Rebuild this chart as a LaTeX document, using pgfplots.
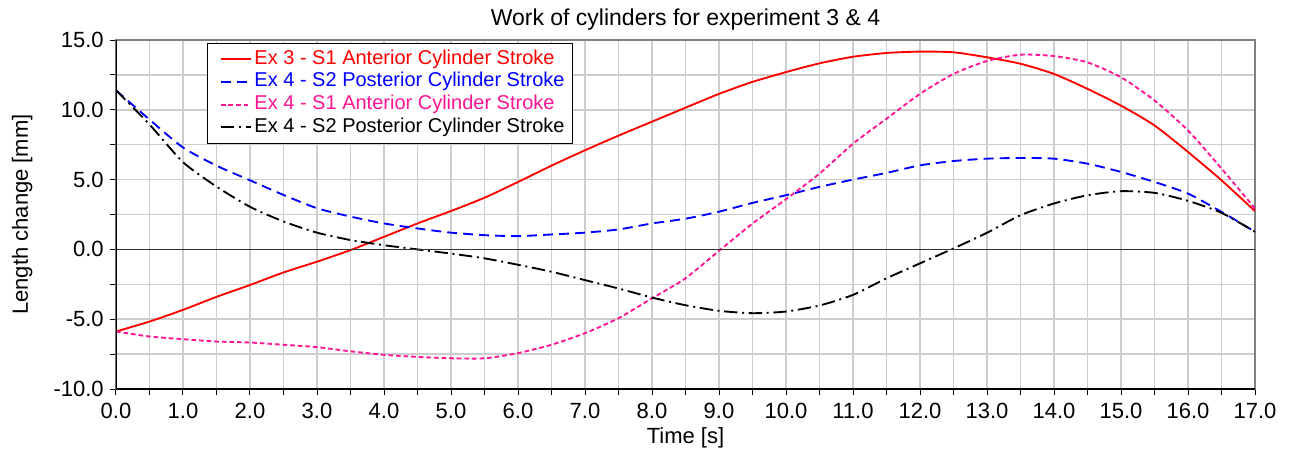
\documentclass[border=0pt]{standalone}
\usepackage{pgfplots}
\pgfplotsset{compat=1.18}
\usepackage{pgfplotstable}
\usepackage{fontspec}
\setmainfont{Liberation Sans}
\definecolor{cred}{RGB}{255,0,0}
\definecolor{cblue}{RGB}{0,0,255}
\definecolor{cpink}{RGB}{255,20,147}
\definecolor{cgrid}{RGB}{205,205,205}
\definecolor{cframe}{RGB}{128,128,128}
\pgfplotstableread{
x red blue pink black
0 -5.88 11.4 -5.88 11.4
0.5 -5.17 9.3 -6.24 8.95
1 -4.33 7.3 -6.43 6.25
1.5 -3.4 6.0 -6.6 4.5
2 -2.55 4.95 -6.67 3.05
2.5 -1.65 3.9 -6.83 2.0
3 -0.88 2.95 -7.0 1.2
3.5 -0.05 2.35 -7.3 0.67
4 0.9 1.86 -7.55 0.3
4.5 1.86 1.5 -7.7 0.0
5 2.75 1.2 -7.8 -0.3
5.5 3.7 1.02 -7.8 -0.64
6 4.83 0.95 -7.43 -1.1
6.5 6.0 1.07 -6.83 -1.6
7 7.1 1.2 -6.0 -2.2
7.5 8.15 1.43 -4.93 -2.8
8 9.15 1.86 -3.5 -3.45
8.5 10.15 2.2 -2.07 -4.0
9 11.14 2.7 -0.1 -4.4
9.5 12.0 3.33 1.85 -4.57
10 12.7 3.88 3.6 -4.45
10.5 13.33 4.48 5.43 -4.02
11 13.8 5.0 7.57 -3.26
11.5 14.07 5.48 9.36 -2.07
12 14.17 6.02 11.14 -1.0
12.5 14.12 6.33 12.57 0.07
13 13.76 6.5 13.5 1.19
13.5 13.3 6.55 13.95 2.45
14 12.57 6.5 13.85 3.29
14.5 11.5 6.14 13.4 3.88
15 10.3 5.55 12.33 4.17
15.5 8.88 4.83 10.67 4.05
16 6.98 4.0 8.52 3.48
16.5 4.95 2.69 5.79 2.62
17 2.74 1.26 2.93 1.26
}\datatable
\begin{document}
\begin{tikzpicture}
\path[use as bounding box] (-87pt,-49.5pt) rectangle (879.75pt,291.75pt);
\begin{axis}[
  at={(0pt,0pt)}, anchor=south west,
  scale only axis,
  width=854.25pt, height=261.75pt,
  xmin=0, xmax=17, ymin=-10, ymax=15,
  xtick={0,1,...,17},
  minor xtick={0.5,1.5,...,16.5},
  ytick={-10,-5,...,15},
  minor ytick={-7.5,-2.5,2.5,7.5,12.5},
  grid=both,
  major grid style={cgrid, line width=1.1pt},
  minor grid style={cgrid, line width=1.1pt},
  xtick pos=bottom, ytick pos=left,
  tick align=outside,
  major tick length=4.5pt, minor tick length=4.5pt,
  every tick/.style={black, line width=0.75pt},
  axis line style={cframe, line width=0.9pt},
  /pgf/number format/.cd, fixed, fixed zerofill, precision=1, assume math mode=true,
  /pgfplots/.cd,
  tick label style={font=\fontsize{16.5}{18}\selectfont},
  xticklabel style={anchor=base, yshift=-17.5pt},
  yticklabel style={anchor=east, inner sep=0pt, xshift=-4.5pt},
  title={Work of cylinders for experiment 3 \& 4},
  title style={font=\fontsize{17.25}{20}\selectfont, at={(axis description cs:0.5,1)}, anchor=base, yshift=5pt},
  xlabel={Time [s]},
  xlabel style={font=\fontsize{16.5}{18}\selectfont, at={(axis description cs:0.5,0)}, anchor=base, yshift=-40.5pt},
  ylabel={Length change [mm]},
  ylabel style={font=\fontsize{16.5}{18}\selectfont, at={([xshift=-66pt]axis description cs:0,0.5)}, anchor=base, rotate=0},
  legend style={at={(0.0799,0.9914)}, anchor=north west, draw=black, fill=white,
    font=\fontsize{15}{17}\selectfont, row sep=0pt, inner sep=3.5pt,
    nodes={text height=11pt, text depth=3.5pt, inner ysep=1.25pt, inner xsep=2pt}},
  legend cell align=left,
  legend image code/.code={\path (0pt,0pt); \path[draw, #1] (6pt,0pt) -- (28.5pt,0pt);},
  every axis plot/.append style={line width=1.4pt},
]
\addlegendimage{cred, line width=1.4pt, solid}
\addlegendentry{\color{cred}Ex 3 - S1 Anterior Cylinder Stroke}
\addlegendimage{cblue, line width=1.4pt, dash pattern=on 7.5pt off 4.5pt}
\addlegendentry{\color{cblue}Ex 4 - S2 Posterior Cylinder Stroke}
\addlegendimage{cpink, line width=1.4pt, dash pattern=on 3.5pt off 2.2pt}
\addlegendentry{\color{cpink}Ex 4 - S1 Anterior Cylinder Stroke}
\addlegendimage{black, line width=1.4pt, dash pattern=on 10pt off 3.5pt on 1.5pt off 3.5pt}
\addlegendentry{\color{black}Ex 4 - S2 Posterior Cylinder Stroke}
\addplot[forget plot, color=cred, solid, smooth, tension=0.4] table[x=x, y=red] {\datatable};
\addplot[forget plot, color=cblue, smooth, tension=0.4, dash pattern=on 7.5pt off 4.5pt] table[x=x, y=blue] {\datatable};
\addplot[forget plot, color=cpink, smooth, tension=0.4, dash pattern=on 3.5pt off 2.2pt] table[x=x, y=pink] {\datatable};
\addplot[forget plot, color=black, smooth, tension=0.4, dash pattern=on 10pt off 3.5pt on 1.5pt off 3.5pt] table[x=x, y=black] {\datatable};
\draw[black!80, line width=0.8pt] (axis cs:0,0) -- (axis cs:17,0);
\draw[black, line width=0.9pt] (rel axis cs:0,1) -- (rel axis cs:0,0) -- (rel axis cs:1,0);
\end{axis}
\end{tikzpicture}
\end{document}
